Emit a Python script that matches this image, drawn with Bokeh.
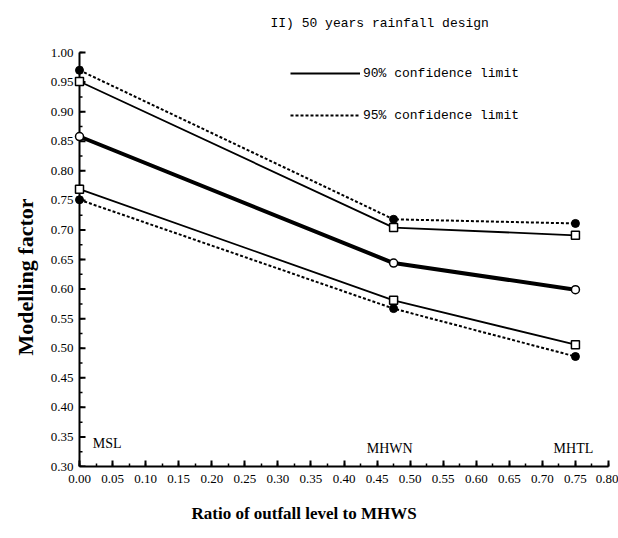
from bokeh.plotting import figure
from bokeh.models import Range1d, FixedTicker, PrintfTickFormatter, Label, Legend, LegendItem, Title
from bokeh.embed import file_html
from bokeh.resources import INLINE

# ---- data ----
x_pos = [0.0, 0.475, 0.75]
site_labels = ["MSL", "MHWN", "MHTL"]
upper95 = [0.970, 0.718, 0.711]
upper90 = [0.951, 0.704, 0.691]
mean_factor = [0.858, 0.644, 0.599]
lower90 = [0.769, 0.581, 0.506]
lower95 = [0.751, 0.567, 0.486]
x_ticks = [round(i * 0.05, 2) for i in range(17)]
y_ticks = [round(0.30 + i * 0.05, 2) for i in range(15)]
x_minor = [round(i * 0.025, 3) for i in range(33)]
y_minor = [round(0.30 + i * 0.025, 3) for i in range(29)]

SERIF = "Liberation Serif"
MONO = "Liberation Mono"
PX = 661.25  # pixels per x data unit

p = figure(width=618, height=538, x_range=Range1d(-0.0121, 0.8), y_range=Range1d(0.3, 1.0711),
           output_backend="svg", toolbar_location=None, title=None,
           min_border_left=71, min_border_right=10, min_border_top=10, min_border_bottom=72)
p.grid.visible = False
p.outline_line_color = None
p.background_fill_color = "white"
p.border_fill_color = "white"

for ax, ticks, minor in ((p.xaxis, x_ticks, x_minor), (p.yaxis, y_ticks, y_minor)):
    ax.ticker = FixedTicker(ticks=ticks, minor_ticks=minor)
    ax.formatter = PrintfTickFormatter(format="%.2f")
    ax.axis_line_width = 2
    ax.axis_line_color = "black"
    ax.major_tick_in = 6
    ax.major_tick_out = 0
    ax.minor_tick_in = 3
    ax.minor_tick_out = 0
    ax.major_tick_line_width = 2
    ax.minor_tick_line_width = 1.5
    ax.major_label_text_font = SERIF
    ax.major_label_text_font_size = "13px"
    ax.major_label_text_color = "black"

p.xaxis.bounds = (0, 0.8)
p.xaxis.major_label_standoff = 8

# y axis: labels from Bokeh axis, line/ticks drawn at x = 0
p.yaxis.axis_line_color = None
p.yaxis.major_tick_line_color = None
p.yaxis.minor_tick_line_color = None
p.yaxis.major_label_standoff = -2
p.segment(x0=[0], y0=[y_ticks[0]], x1=[0], y1=[y_ticks[-1]], line_color="black", line_width=2)
p.segment(x0=[0] * len(y_ticks), y0=y_ticks, x1=[6 / PX] * len(y_ticks), y1=y_ticks,
          line_color="black", line_width=2)
p.segment(x0=[0] * len(y_minor), y0=y_minor, x1=[3 / PX] * len(y_minor), y1=y_minor,
          line_color="black", line_width=1.5)

# axis titles as side titles
p.add_layout(Title(text="Ratio of outfall level to MHWS", align="left", offset=120,
                   text_font=SERIF, text_font_style="bold", text_font_size="17px",
                   text_color="black", standoff=32), "below")
p.add_layout(Title(text="Modelling  factor", align="left", offset=111,
                   text_font=SERIF, text_font_style="bold", text_font_size="22px",
                   text_color="black", standoff=19), "left")

# top title
p.add_layout(Label(x=0.2888, y=1.049, text="II)  50 years rainfall design", text_font=MONO,
                   text_font_size="13px", text_baseline="middle", text_color="black"))

# lines
r_u95 = p.line(x_pos, upper95, line_color="black", line_width=2, line_dash="3 2")
r_u90 = p.line(x_pos, upper90, line_color="black", line_width=1.8)
p.line(x_pos, mean_factor, line_color="black", line_width=4)
p.line(x_pos, lower90, line_color="black", line_width=1.8)
p.line(x_pos, lower95, line_color="black", line_width=2, line_dash="3 2")

# markers
for ys in (upper95, lower95):
    p.scatter(x_pos, ys, marker="circle", size=8, fill_color="black", line_color="black")
for ys in (upper90, lower90):
    p.scatter(x_pos, ys, marker="square", size=8, fill_color="white", line_color="black", line_width=1.5)
p.scatter(x_pos, mean_factor, marker="circle", size=8, fill_color="white", line_color="black", line_width=1.5)

# site labels
label_x = [0.02, 0.469, 0.747]
label_y = [0.339, 0.331, 0.331]
label_align = ["left", "center", "center"]
for t, lx, ly, al in zip(site_labels, label_x, label_y, label_align):
    p.add_layout(Label(x=lx, y=ly, text=t, text_font=SERIF, text_font_size="14px",
                       text_align=al, text_baseline="middle", text_color="black"))

legend = Legend(items=[LegendItem(label="90% confidence limit", renderers=[r_u90]),
                       LegendItem(label="95% confidence limit", renderers=[r_u95])],
                location=(219, 343), glyph_width=70, glyph_height=16, label_standoff=3,
                spacing=26, padding=0, margin=0, border_line_color=None,
                background_fill_alpha=0, label_text_font=MONO, label_text_font_size="13px",
                label_text_color="black")
p.add_layout(legend)

open("out.html", "w").write(file_html(p, INLINE))
